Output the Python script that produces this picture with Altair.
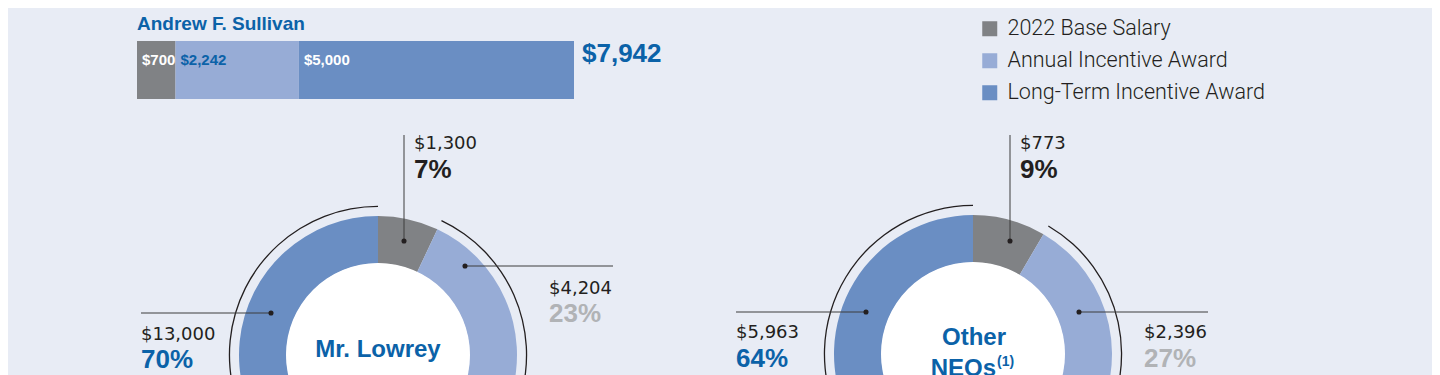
import math
import altair as alt
import pandas as pd

# ---------------- data ----------------
components = ["2022 Base Salary", "Annual Incentive Award", "Long-Term Incentive Award"]
comp_colors = ["#808285", "#97ACD6", "#6A8EC3"]

sullivan_name = "Andrew F. Sullivan"
sullivan_values = [700, 2242, 5000]
sullivan_total = 7942

lowrey_name = "Mr. Lowrey"
lowrey_values = [1300, 4204, 13000]
lowrey_pcts = [7, 23, 70]

neo_name_line1 = "Other"
neo_name_line2 = "NEOs"
neo_footnote = "(1)"
neo_values = [773, 2396, 5963]
neo_pcts = [9, 27, 64]

# ---------------- style ----------------
W, H = 1424, 367
BG = "#E8ECF5"
BLUE = "#0B62A8"
DARK = "#231F20"
LINE = "#3C3C3C"
LIGHTGRAY = "#B1B3B6"
pct_colors = [DARK, LIGHTGRAY, BLUE]
SANS = "Liberation Sans, Arial, Helvetica"
NUMF = "DejaVu Sans"

dummy = pd.DataFrame({"d": [0]})


def money(v):
    return f"${v:,}"


color_enc = alt.Color(
    "comp:N",
    scale=alt.Scale(domain=components, range=comp_colors),
    legend=alt.Legend(
        orient="none", legendX=971, legendY=10, title=None,
        symbolType="square", symbolSize=225, symbolStrokeWidth=0, symbolOpacity=1,
        labelFont="Roboto", labelFontSize=21.5, labelFontWeight=300,
        labelColor=DARK, labelOffset=7, labelLimit=500, rowPadding=9, padding=0,
    ),
)


def text(s, x, y, size, color, weight="normal", font=SANS, align="left"):
    return alt.Chart(dummy).mark_text(
        text=s, font=font, fontSize=size, fontWeight=weight, color=color,
        align=align, baseline="alphabetic",
    ).encode(x=alt.value(x), y=alt.value(y))


def rule(x1, y1, x2, y2):
    return alt.Chart(dummy).mark_rule(color=LINE, strokeWidth=1).encode(
        x=alt.value(x1), x2=alt.value(x2), y=alt.value(y1), y2=alt.value(y2))


def dot(x, y):
    return alt.Chart(dummy).mark_circle(size=26, color=DARK, opacity=1).encode(
        x=alt.value(x), y=alt.value(y))


layers = []

# ---------------- Sullivan bar ----------------
bar_df = pd.DataFrame({
    "comp": components, "idx": [0, 1, 2], "value": sullivan_values,
    "label": [money(v) for v in sullivan_values],
})
bar_base = alt.Chart(bar_df).transform_window(
    cum="sum(value)", sort=[alt.SortField("idx")]
).transform_calculate(start="datum.cum - datum.value")
xscale = alt.Scale(domain=[0, sullivan_total], range=[129, 566], nice=False, zero=True)
layers.append(bar_base.mark_rect().encode(
    x=alt.X("start:Q", scale=xscale, axis=None), x2="cum:Q",
    y=alt.value(33), y2=alt.value(91), color=color_enc))
layers.append(bar_base.mark_text(
    font=SANS, fontSize=15, fontWeight="bold", align="left", baseline="alphabetic", dx=5
).encode(
    x=alt.X("start:Q", scale=xscale, axis=None), y=alt.value(57), text="label:N",
    color=alt.condition("datum.idx == 1", alt.value(BLUE), alt.value("#FFFFFF"))))
layers.append(text(sullivan_name, 129, 22, 19, BLUE, "bold"))
layers.append(text(money(sullivan_total), 574, 54, 26, BLUE, "bold"))

# ---------------- donuts ----------------
theta_scale = alt.Scale(domain=[0, 1], range=[0, 2 * math.pi])


def donut(values, pcts, cx, cy):
    df = pd.DataFrame({"comp": components, "idx": [0, 1, 2], "value": values, "pct": pcts})
    base = alt.Chart(df).transform_joinaggregate(total="sum(value)").transform_window(
        cum="sum(value)", sort=[alt.SortField("idx")]
    ).transform_calculate(
        fs="(datum.cum - datum.value) / datum.total", fe="datum.cum / datum.total")
    ring = base.mark_arc(radius=139, radius2=91.5).encode(
        theta=alt.Theta("fs:Q", scale=theta_scale), theta2="fe:Q",
        color=color_enc, x=alt.value(cx), y=alt.value(cy))
    hole = alt.Chart(dummy).mark_arc(radius=92, theta=0, theta2=2 * math.pi, color="#FFFFFF").encode(
        x=alt.value(cx), y=alt.value(cy))
    outer = base.transform_filter("datum.idx > 0").mark_arc(
        radius=149.2, radius2=147.9, color=DARK).encode(
        theta=alt.Theta("fs:Q", scale=theta_scale), theta2="fe:Q",
        x=alt.value(cx), y=alt.value(cy))
    return [ring, hole, outer]


# Mr. Lowrey
layers += donut(lowrey_values, lowrey_pcts, 370, 347)
layers += [rule(396, 127, 396, 233), rule(457, 258, 605, 258), rule(133, 305, 263, 305)]
layers += [dot(396, 233), dot(457, 258), dot(263, 305)]
layers += [
    text(money(lowrey_values[0]), 406, 141, 18, DARK, font=NUMF),
    text(f"{lowrey_pcts[0]}%", 406, 170, 26, pct_colors[0], "bold"),
    text(money(lowrey_values[1]), 541, 286, 18, DARK, font=NUMF),
    text(f"{lowrey_pcts[1]}%", 541, 314, 26, pct_colors[1], "bold"),
    text(money(lowrey_values[2]), 133, 332, 18, DARK, font=NUMF),
    text(f"{lowrey_pcts[2]}%", 133, 360, 26, pct_colors[2], "bold"),
    text(lowrey_name, 370, 349, 24, BLUE, "bold", align="center"),
]

# Other NEOs
layers += donut(neo_values, neo_pcts, 965, 346)
layers += [rule(1002, 127, 1002, 233), rule(1071, 304, 1200, 304), rule(728, 304, 858, 304)]
layers += [dot(1002, 233), dot(1071, 304), dot(858, 304)]
layers += [
    text(money(neo_values[0]), 1012, 141, 18, DARK, font=NUMF),
    text(f"{neo_pcts[0]}%", 1012, 170, 26, pct_colors[0], "bold"),
    text(money(neo_values[1]), 1136, 330, 18, DARK, font=NUMF),
    text(f"{neo_pcts[1]}%", 1136, 359, 26, pct_colors[1], "bold"),
    text(money(neo_values[2]), 728, 330, 18, DARK, font=NUMF),
    text(f"{neo_pcts[2]}%", 728, 359, 26, pct_colors[2], "bold"),
    text(neo_name_line1, 966, 337, 24, BLUE, "bold", align="center"),
    text(neo_name_line2, 988, 368, 24, BLUE, "bold", align="right"),
    text(neo_footnote, 989, 358, 14, BLUE, "bold", align="left"),
]

chart = alt.layer(*layers).properties(
    width=W, height=H, background=BG, padding=0,
    autosize=alt.AutoSizeParams(type="none"),
).configure_view(stroke=None)

chart.save("out.html", embed_options={"renderer": "svg", "actions": False})
